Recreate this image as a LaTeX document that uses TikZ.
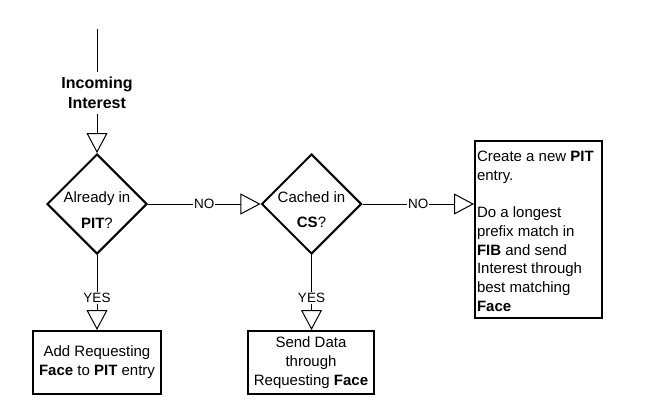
\documentclass[tikz,border=0pt]{standalone}
\usepackage{fontspec}
\setmainfont{Liberation Sans}
\usetikzlibrary{shapes.geometric,arrows.meta}
\tikzset{
  decision/.style={diamond, draw, line width=2pt, minimum width=100pt, minimum height=100pt, inner sep=0pt, aspect=1},
  action/.style={rectangle, draw, line width=2pt, minimum height=63pt, align=center, inner sep=1pt, font=\fontsize{15}{19}\selectfont},
  bigbox/.style={rectangle, draw, line width=2pt, inner sep=2pt, anchor=north west, font=\fontsize{15}{18.75}\selectfont},
  starttext/.style={align=center, inner xsep=2pt, inner ysep=5pt, font=\bfseries\fontsize{16}{20}\selectfont},
  plain/.style={line width=1pt},
  flow/.style={line width=1pt, -{Triangle[open,length=20pt,width=21pt]}},
  cond/.style={fill=white, inner sep=1pt, font=\fontsize{13.5}{16}\selectfont},
  dtext/.style={align=center, yshift=-6pt, font=\fontsize{15}{19}\selectfont}
}
\begin{document}
\begin{tikzpicture}[x=1pt,y=-1pt]
\useasboundingbox (0,0) rectangle (647,417);
\fill[white] (0,0) rectangle (647,417);
\coordinate (start) at (97,29);
\node[starttext] (inc) at (97,93) {Incoming\\Interest};
\node[decision, label={[dtext]center:{Already in\\[7pt]\textbf{PIT}?}}] (d1) at (97,204) {};
\node[decision, label={[dtext]center:{Cached in\\[6pt]\textbf{CS}?}}] (d2) at (311.5,204) {};
\node[action, minimum width=128pt] (b1) at (97,362.5) {Add Requesting\\\textbf{Face} to \textbf{PIT} entry};
\node[action, minimum width=126pt] (b2) at (311,362.5) {Send Data\\through\\Requesting \textbf{Face}};
\node[bigbox] (b3) at (474,140) {\parbox[c][173pt][t]{123pt}{\raggedright\vspace*{8pt}Create a new \textbf{PIT}\\entry.\\[18.75pt]Do a longest\\prefix match in\\\textbf{FIB} and send\\Interest through\\best matching\\\textbf{Face}}};
\draw[plain] (start) -- (inc);
\draw[flow] (inc) -- (d1);
\draw[flow] (d1) -- node[cond]{NO} (d2);
\draw[flow] (d2.east) -- node[cond]{NO} (d2.east -| b3.west);
\draw[flow] (d1) -- node[cond, pos=0.57]{YES} (b1);
\draw[flow] (d2.south) -- node[cond, pos=0.57]{YES} (d2.south |- b2.north);
\end{tikzpicture}
\end{document}
